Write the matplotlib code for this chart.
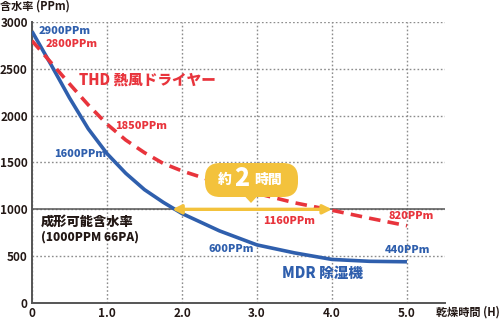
import matplotlib.pyplot as plt
from matplotlib.patches import FancyBboxPatch, Polygon

plt.rcParams['font.family'] = ['Noto Sans CJK JP', 'DejaVu Sans']

# data
hours = [0, 0.25, 0.5, 0.75, 1.0, 1.25, 1.5, 1.75, 2.0, 2.5, 3.0, 3.5, 4.0, 4.5, 5.0]
mdr = [2900, 2550, 2190, 1860, 1595, 1385, 1210, 1075, 955, 770, 620, 535, 465, 445, 440]
thd = [2800, 2570, 2340, 2115, 1910, 1740, 1605, 1490, 1410, 1280, 1170, 1070, 990, 905, 825]
limit = 1000
arrow_from = 1.87
arrow_to = 4.0
xticks = [0, 1, 2, 3, 4, 5]
xticklabels = ['0', '1.0', '2.0', '3.0', '4.0', '5.0']
yticks = [0, 500, 1000, 1500, 2000, 2500, 3000]

blue = '#2f5fad'
red = '#e8343c'
yellow = '#f3c23c'
dark = '#231815'

fig = plt.figure(figsize=[5.0, 3.19], dpi=100)
ax = fig.add_axes([0.064, 0.0502, 0.826, 0.8808])

ax.plot(hours, mdr, color=blue, lw=2.6, solid_capstyle='butt', solid_joinstyle='round', zorder=4)
ax.plot(hours, thd, color=red, lw=2.6, dashes=(3.2, 2.0), zorder=4)
ax.axhline(limit, color='#555555', lw=1.1, zorder=2)
ax.annotate('', xy=(arrow_from, limit), xytext=(arrow_to, limit),
            arrowprops=dict(arrowstyle='<|-|>', color=yellow, lw=2.4,
                            mutation_scale=13, shrinkA=0, shrinkB=0), zorder=5)

ax.set_xlim(0, 5.507)
ax.set_ylim(0, 3000)
ax.set_xticks(xticks)
ax.set_xticklabels(xticklabels)
ax.set_yticks(yticks)
ax.tick_params(length=0, labelsize=8.5, colors=dark, pad=3)
for lab in ax.get_xticklabels() + ax.get_yticklabels():
    lab.set_fontweight('bold')
ax.grid(True, color='#8c8c8c', linestyle=(0, (1.2, 1.6)), lw=1.0, zorder=1)
for s in ['top', 'right']:
    ax.spines[s].set_visible(False)
for s in ['left', 'bottom']:
    ax.spines[s].set_color('#555555')
    ax.spines[s].set_linewidth(1.4)

# labels
def lbl(x, y, s, c, size=7.8):
    ax.text(x, y, s, color=c, fontsize=size, fontweight='heavy', ha='left', va='center', zorder=6)

lbl(0.093, 2904, '2900PPm', blue)
lbl(0.187, 2765, '2800PPm', red)
lbl(1.107, 1890, '1850PPm', red)
lbl(0.293, 1591, '1600PPm', blue)
lbl(2.347, 576, '600PPm', blue)
lbl(3.08, 875, '1160PPm', red)
lbl(4.747, 929, '820PPm', red)
lbl(4.707, 566, '440PPm', blue)
lbl(0.627, 2381, 'THD 熱風ドライヤー', red, 10.5)
lbl(3.333, 320, 'MDR 除湿機', blue, 10.5)
lbl(0.12, 865, '成形可能含水率', dark, 9.5)
lbl(0.12, 705, '(1000PPM 66PA)', dark, 8.5)

fig.text(0.0, 1 - 6 / 319, '含水率 (PPm)', fontsize=8, fontweight='bold', color=dark, ha='left', va='center')
fig.text(1.0, 1 - 312 / 319, '乾燥時間 (H)', fontsize=8, fontweight='bold', color=dark, ha='right', va='center')

# badge
badge = FancyBboxPatch((2.05, 1.22), 0.93, 0.34, boxstyle='round,pad=0,rounding_size=0.15',
                       transform=fig.dpi_scale_trans, fc=yellow, ec='none', zorder=7)
fig.patches.append(badge)
tip = Polygon([(2.45, 1.225), (2.57, 1.225), (2.51, 1.16)], closed=True,
              transform=fig.dpi_scale_trans, fc=yellow, ec='none', zorder=7)
fig.patches.append(tip)
fig.text(225 / 500, 1 - 180 / 319, '約', fontsize=10, fontweight='heavy', color='white', ha='center', va='center', zorder=8)
fig.text(241.5 / 500, 1 - 178 / 319, '2', fontsize=18, fontweight='heavy', color='white', ha='center', va='center', zorder=8)
fig.text(268 / 500, 1 - 180 / 319, '時間', fontsize=10, fontweight='heavy', color='white', ha='center', va='center', zorder=8)

plt.savefig('out.png', dpi=100)
